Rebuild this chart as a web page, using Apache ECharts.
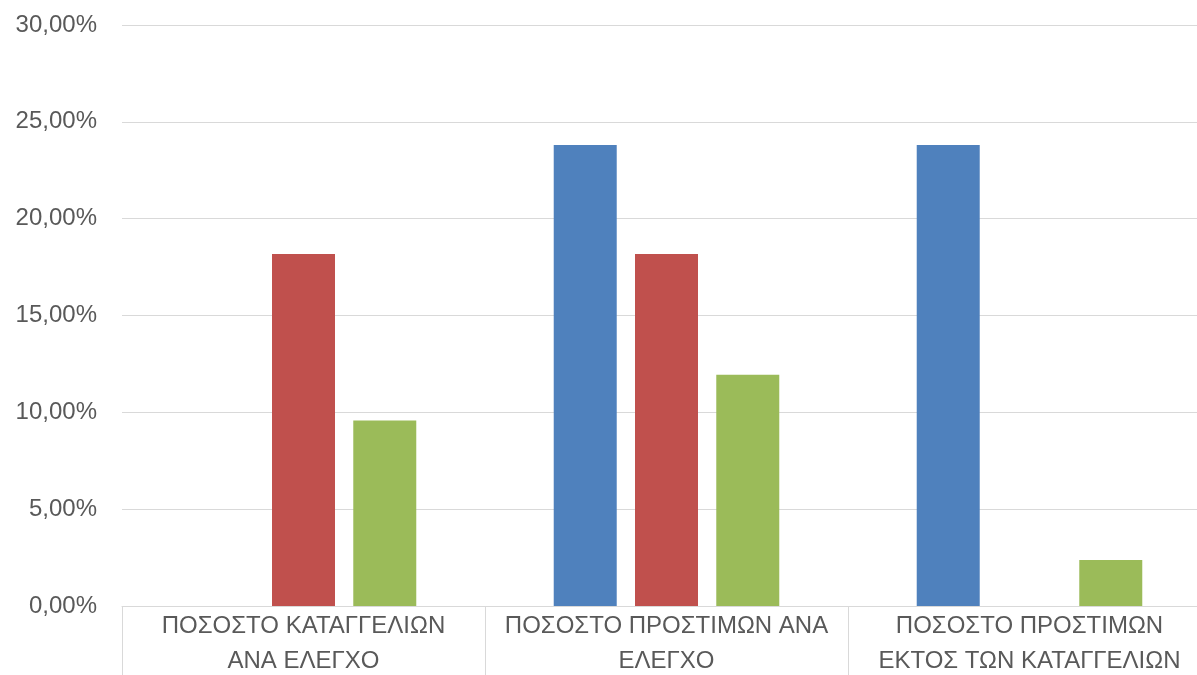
<!DOCTYPE html>
<html lang="el">
<head>
    <meta charset="utf-8" />
    <title>Ποσοστά</title>
    <script type="text/javascript" src="https://cdn.jsdelivr.net/npm/echarts@6/dist/echarts.min.js"></script>
    <style type="text/css">
        html, body { margin: 0; padding: 0; background: #fff; }
    </style>
</head>
<body>
    <div id="main" style="width:1197px;height:675px;"></div>
    <script type="text/javascript">
        var categories = ['ΠΟΣΟΣΤΟ ΚΑΤΑΓΓΕΛΙΩΝ\nΑΝΑ ΕΛΕΓΧΟ', 'ΠΟΣΟΣΤΟ ΠΡΟΣΤΙΜΩΝ ΑΝΑ\nΕΛΕΓΧΟ', 'ΠΟΣΟΣΤΟ ΠΡΟΣΤΙΜΩΝ\nΕΚΤΟΣ ΤΩΝ ΚΑΤΑΓΓΕΛΙΩΝ'];
        var seriesBlue = [null, 23.81, 23.81];
        var seriesRed = [18.18, 18.18, null];
        var seriesGreen = [9.58, 11.94, 2.37];

        var myChart = echarts.init(document.getElementById('main'));

        var option = {
            animation: false,
            grid: {
                left: 122,
                top: 25,
                width: 1089,
                height: 581,
                containLabel: false,
                outerBoundsMode: 'none'
            },
            xAxis: {
                type: 'category',
                data: categories,
                axisLine: { lineStyle: { color: '#D9D9D9', width: 1 } },
                axisTick: { show: true, length: 75, lineStyle: { color: '#D9D9D9' } },
                axisLabel: {
                    color: '#595959',
                    fontFamily: 'Liberation Sans',
                    fontSize: 24,
                    lineHeight: 35,
                    margin: 3,
                    interval: 0
                }
            },
            yAxis: {
                type: 'value',
                min: 0,
                max: 30,
                interval: 5,
                axisLine: { show: false },
                axisTick: { show: false },
                splitLine: { lineStyle: { color: '#D9D9D9', width: 1 } },
                axisLabel: {
                    color: '#595959',
                    fontFamily: 'Liberation Sans',
                    fontSize: 24,
                    margin: 25,
                    formatter: function (v) {
                        return v.toFixed(2).replace('.', ',') + '%';
                    }
                }
            },
            series: [{
                type: 'bar',
                data: seriesBlue,
                barWidth: 63,
                barGap: '29%',
                itemStyle: { color: '#4F81BD' }
            }, {
                type: 'bar',
                data: seriesRed,
                barWidth: 63,
                barGap: '29%',
                itemStyle: { color: '#C0504D' }
            }, {
                type: 'bar',
                data: seriesGreen,
                barWidth: 63,
                barGap: '29%',
                itemStyle: { color: '#9BBB59' }
            }]
        };
        myChart.setOption(option, true);
    </script>
</body>
</html>
